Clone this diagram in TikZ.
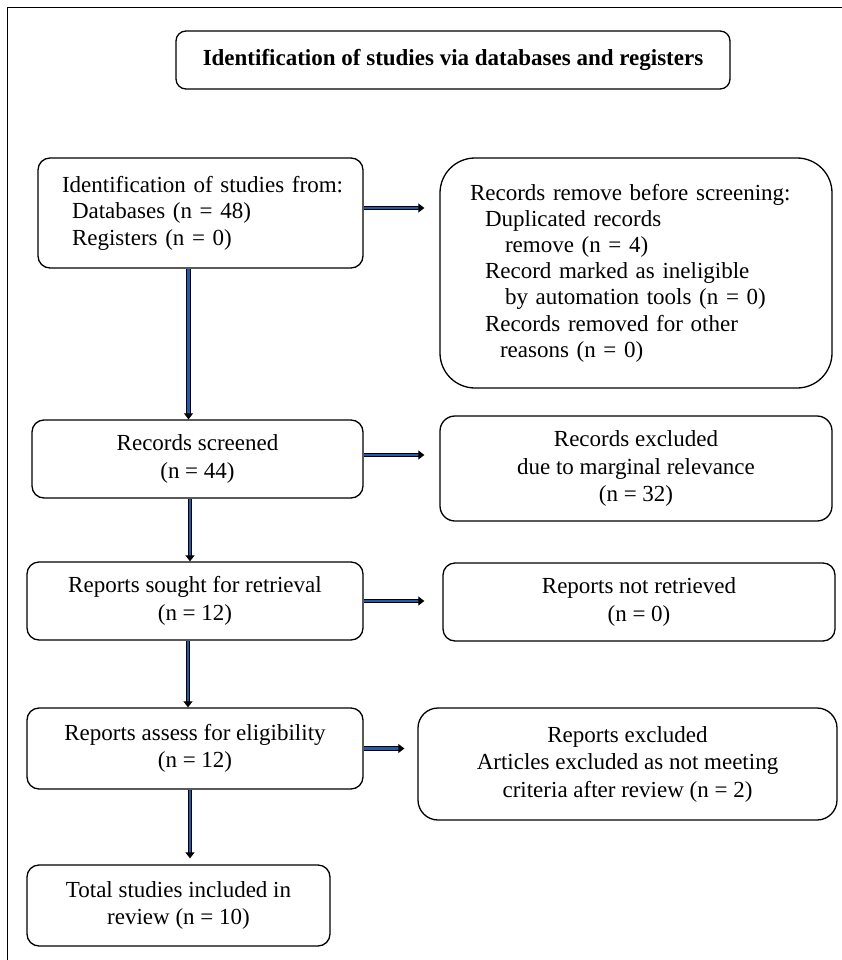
\documentclass[tikz,border=0pt]{standalone}
\usepackage{fontspec}
\setmainfont{Liberation Serif}
\usetikzlibrary{arrows.meta}
\definecolor{flowblue}{RGB}{32,92,172}

\begin{document}
\begin{tikzpicture}[x=1pt,y=-1pt,>={Triangle[length=6pt,width=9pt]},
    box/.style={draw,rounded corners=12pt,line width=1.3pt,inner sep=0pt,align=center,font=\fontsize{23}{27.5}\selectfont},
    flow/.style={draw,->,double=flowblue,double distance=2.4pt,line width=1pt}]
    \useasboundingbox (0,0) rectangle (842,960);
    % page frame
    \draw[line width=1pt] (7,960) -- (7,8) -- (842,8);

    \node[box,rounded corners=10pt,minimum width=554pt,minimum height=58pt,font=\fontsize{23}{27}\selectfont\bfseries] (title) at (453,60) {Identification of studies via databases and registers};

    \node[box,align=left,inner xsep=12pt,text width=301pt,minimum height=110pt,font=\fontsize{23}{26.5}\selectfont] (ident) at (200.5,213) {\hspace*{12pt}Identification of studies from:\\
        \hspace*{22pt}Databases (n = 48)\\
        \hspace*{22pt}Registers (n = 0)};
    \node[box,rounded corners=35pt,align=left,inner xsep=30pt,text width=332pt,minimum height=230pt,font=\fontsize{23}{26.2}\selectfont] (removed) at (636,273) {Records remove before screening:\\
        \hspace*{15pt}Duplicated records\\
        \hspace*{35pt}remove (n = 4)\\
        \hspace*{15pt}Record marked as ineligible\\
        \hspace*{35pt}by automation tools (n = 0)\\
        \hspace*{15pt}Records removed for other\\
        \hspace*{30pt}reasons (n = 0)};

    \node[box,minimum width=331pt,minimum height=78pt] (screened) at (197.5,459) {Records screened\\(n = 44)};
    \node[box,rounded corners=15pt,minimum width=392pt,minimum height=105pt] (excluded) at (636,468.5) {Records excluded\\due to marginal relevance\\(n = 32)};

    \node[box,minimum width=336pt,minimum height=78pt] (sought) at (195,601) {Reports sought for retrieval\\(n = 12)};
    \node[box,minimum width=392pt,minimum height=78pt] (notret) at (639,602) {Reports not retrieved\\(n = 0)};

    \node[box,minimum width=336pt,minimum height=81pt] (assess) at (195,748.5) {Reports assess for eligibility\\(n = 12)};
    \node[box,rounded corners=20pt,minimum width=419pt,minimum height=112pt] (repexcl) at (627.5,764) {Reports excluded\\Articles excluded as not meeting\\criteria after review (n = 2)};

    \node[box,minimum width=303pt,minimum height=81pt] (total) at (178.5,905.5) {Total studies included in\\review (n = 10)};

    \path[every edge/.style=flow]
        ([xshift=-12pt]ident.south) edge ([xshift=-12pt]ident.south |- screened.north)
        ([xshift=-7.5pt]screened.south) edge ([xshift=-7.5pt]screened.south |- sought.north)
        ([xshift=-7pt]sought.south) edge ([xshift=-7pt]sought.south |- assess.north)
        ([xshift=-5pt]assess.south) edge[shorten >=6pt] ([xshift=-5pt]assess.south |- total.north)
        ([yshift=5pt]ident.east) edge[shorten >=15pt] ([yshift=5pt]ident.east -| removed.west)
        ([yshift=4pt]screened.east) edge[shorten >=15pt] ([yshift=4pt]screened.east -| excluded.west)
        (sought.east) edge[shorten >=18pt] (sought.east -| notret.west)
        (assess.east) edge[shorten >=13pt] (assess.east -| repexcl.west)
        ;
\end{tikzpicture}
\end{document}
